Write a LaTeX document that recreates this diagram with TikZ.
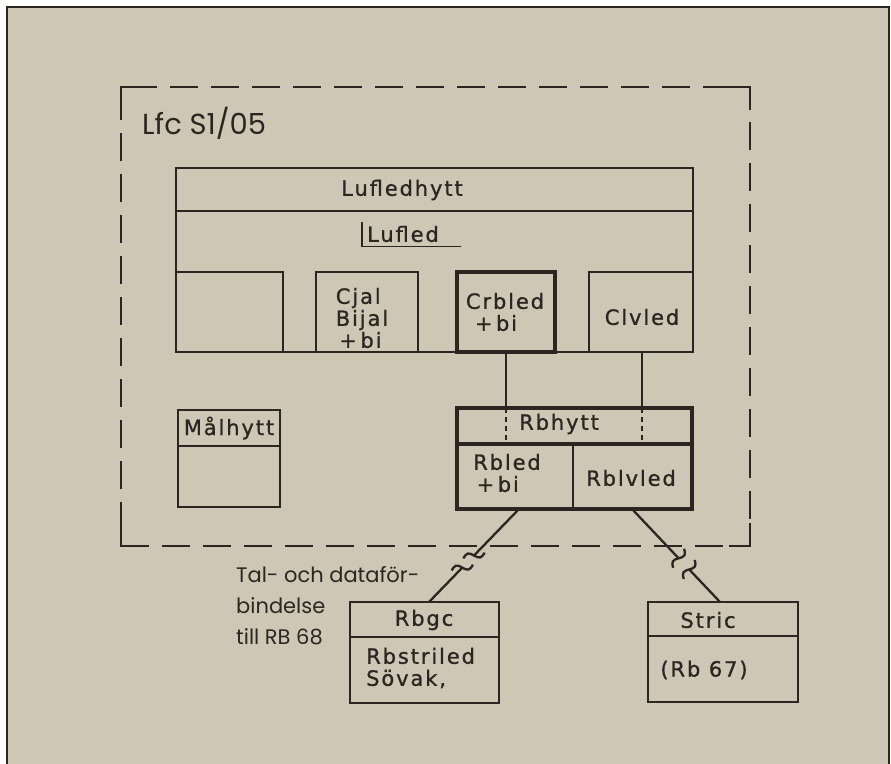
\documentclass[tikz,border=0pt]{standalone}
\usepackage{fontspec}
\setmainfont{Poppins}
\newfontfamily\stencilfont[LetterSpace=9,FakeBold=1]{DejaVu Sans}
\usetikzlibrary{positioning,calc}
\definecolor{paper}{RGB}{206,199,181}
\definecolor{ink}{RGB}{43,38,33}

\tikzset{
    wave/.pic={
            \draw[ink, line width=2.3pt] (-11,0) sin (-5.5,-3.5) cos (0,0) sin (5.5,3.5) cos (11,0);
        }
}

\begin{document}
\begin{tikzpicture}[
            x=1pt, y=-1pt,
            box/.style={
                    draw=ink,
                    rectangle,
                    line width=2.5pt,
                    inner sep=0pt,
                    outer sep=0pt
                },
            thickbox/.style={
                    box,
                    line width=3.5pt
                },
            dashBox/.style={
                    draw=ink,
                    rectangle,
                    line width=2.8pt,
                    dash pattern=on 28pt off 13pt,
                    inner sep=0pt,
                    outer sep=0pt
                },
            conn/.style={
                    draw=ink,
                    line width=2.3pt
                },
            dotConn/.style={
                    conn,
                    dash pattern=on 5pt off 4pt
                },
            boxText/.style={
                    font=\stencilfont\fontsize{21}{22}\selectfont,
                    text=ink,
                    inner sep=0pt,
                    align=left
                },
            tagText/.style={
                    font=\fontsize{29}{30}\selectfont,
                    text=ink,
                    inner sep=0pt
                },
            noteText/.style={
                    font=\fontsize{21}{31}\selectfont,
                    text=ink,
                    inner sep=0pt,
                    align=left
                }
            ]

            \useasboundingbox (0,0) rectangle (891,763);

            % Papper och ram
            \node[fill=paper, minimum width=882, minimum height=770, anchor=north west, inner sep=0pt] (sheet) at (7,7) {};
            \draw[ink, line width=2pt] (sheet.south west) -- (sheet.north west) -- (sheet.north east) -- (sheet.south east);

            % 1. Streckad gräns Lfc S1/05
            \node[dashBox, minimum width=629, minimum height=459, anchor=north west] (lfcArea) at (121,87) {};
            \draw[conn, line width=2.8pt] ($(lfcArea.north west)+(0,23)$) -- (lfcArea.north west) -- ++(21,0);
            \draw[conn, line width=2.8pt] ($(lfcArea.north east)+(-21,0)$) -- (lfcArea.north east) -- ++(0,23);
            \draw[conn, line width=2.8pt] ($(lfcArea.south west)+(0,-23)$) -- (lfcArea.south west) -- ++(21,0);
            \draw[conn, line width=2.8pt] ($(lfcArea.south east)+(-21,0)$) -- (lfcArea.south east) -- ++(0,-23);
            \node[tagText, anchor=west] (lfcTag) at (142,123) {Lfc S1/05};

            % 2. Lufledhytt med Lufled
            \node[box, minimum width=517, minimum height=184, anchor=north west] (lufHytt) at (176,168) {};
            \draw[conn, line width=2.5pt] ($(lufHytt.north west)+(0,43)$) -- ($(lufHytt.north east)+(0,43)$);
            \node[boxText] (lufHyttTitle) at (402,190) {Lufledhytt};
            \node[boxText, inner sep=2pt] (lufled) at (403,234) {Lufled};
            \draw[ink, line width=1.6pt] ($(lufled.north west)+(-3,-2)$) -- ($(lufled.south west)+(-3,2)$) -- ($(lufled.south east)+(20,2)$);

            % 3. Platser i Lufledhytt
            \node[box, minimum width=107, minimum height=80, anchor=south west] (platsA) at (lufHytt.south west) {};
            \node[box, minimum width=102, minimum height=80, anchor=south west] (cjal) at (316,352) {};
            \node[boxText] (cjalText) at (362,318) {Cjal\\Bijal\\\,+\,bi};
            \node[thickbox, minimum width=98, minimum height=80, anchor=south west] (crbled) at (457,352) {};
            \node[boxText] (crbledText) at (505,312) {Crbled\\\hspace{9pt}+\,bi};
            \node[box, minimum width=104, minimum height=80, anchor=south east] (clvled) at (lufHytt.south east) {};
            \node[boxText] (clvledText) at (642,317) {Clvled};

            % 4. Målhytt
            \node[box, minimum width=102, minimum height=97, anchor=north west] (malHytt) at (178,410) {};
            \draw[conn, line width=2.5pt] ($(malHytt.north west)+(0,36)$) -- ($(malHytt.north east)+(0,36)$);
            \node[boxText] (malHyttText) at (229,428) {Målhytt};

            % 5. Rbhytt
            \node[thickbox, minimum width=235, minimum height=101, anchor=north west] (rbBox) at (457,408) {};
            \coordinate (rbRow) at ($(rbBox.north west)+(0,36)$);
            \draw[ink, line width=3.5pt] (rbRow) -- (rbRow -| rbBox.east);
            \draw[ink, line width=2.8pt] ($(rbBox.south west)+(116,0)$) -- ($(rbRow)+(116,0)$);
            \node[boxText] (rbHyttText) at (559,424) {Rbhytt};
            \node[boxText] (rbledText) at (507,473) {Rbled\\\,+\,bi};
            \node[boxText] (rblvledText) at (631,478) {Rblvled};

            % 6. Förbindelser från Crbled och Clvled
            \draw[conn] (crbled.south) -- (crbled.south |- rbBox.north);
            \draw[dotConn] (crbled.south |- rbBox.north) -- (crbled.south |- rbRow);
            \draw[conn] (clvledText |- clvled.south) -- (clvledText |- rbBox.north);
            \draw[dotConn] (clvledText |- rbBox.north) -- (clvledText |- rbRow);

            % 7. Rbgc och Stric
            \node[box, minimum width=149, minimum height=101, anchor=north west] (rbgc) at (350,602) {};
            \draw[conn, line width=2.5pt] ($(rbgc.north west)+(0,35)$) -- ($(rbgc.north east)+(0,35)$);
            \node[boxText] (rbgcText) at (424,620) {Rbgc};
            \node[boxText, anchor=west] (rbstriText) at (366,668) {Rbstriled\\Sövak,};

            \node[box, minimum width=150, minimum height=100, anchor=north west] (stric) at (648,602) {};
            \draw[conn, line width=2.5pt] ($(stric.north west)+(0,34)$) -- ($(stric.north east)+(0,34)$);
            \node[boxText] (stricText) at (708,620) {Stric};
            \node[boxText] (rb67Text) at (704,670) {(Rb 67)};

            % 8. Brutna förbindelser
            \coordinate (rbledOut) at ($(rbBox.south west)+(62,0)$);
            \coordinate (rbgcIn) at ($(rbgc.north west)+(79,0)$);
            \coordinate (rblvOut) at ($(rbBox.south east)+(-60,0)$);
            \coordinate (stricIn) at ($(stric.north west)+(72,0)$);

            \draw[conn] (rbledOut) -- ($(rbledOut)!0.5!(rbgcIn)$);
            \draw[conn] ($(rbledOut)!0.63!(rbgcIn)$) -- (rbgcIn);
            \pic[rotate=15] at ($(rbledOut)!0.5!(rbgcIn)$) {wave};
            \pic[rotate=15] at ($(rbledOut)!0.63!(rbgcIn)$) {wave};

            \draw[conn] (rblvOut) -- ($(rblvOut)!0.53!(stricIn)$);
            \draw[conn] ($(rblvOut)!0.65!(stricIn)$) -- (stricIn);
            \pic[rotate=60] at ($(rblvOut)!0.53!(stricIn)$) {wave};
            \pic[rotate=60] at ($(rblvOut)!0.65!(stricIn)$) {wave};

            \node[noteText, anchor=north west] (talNote) at (236,566) {Tal- och dataför-\\bindelse\\till RB 68};

        \end{tikzpicture}
\end{document}
